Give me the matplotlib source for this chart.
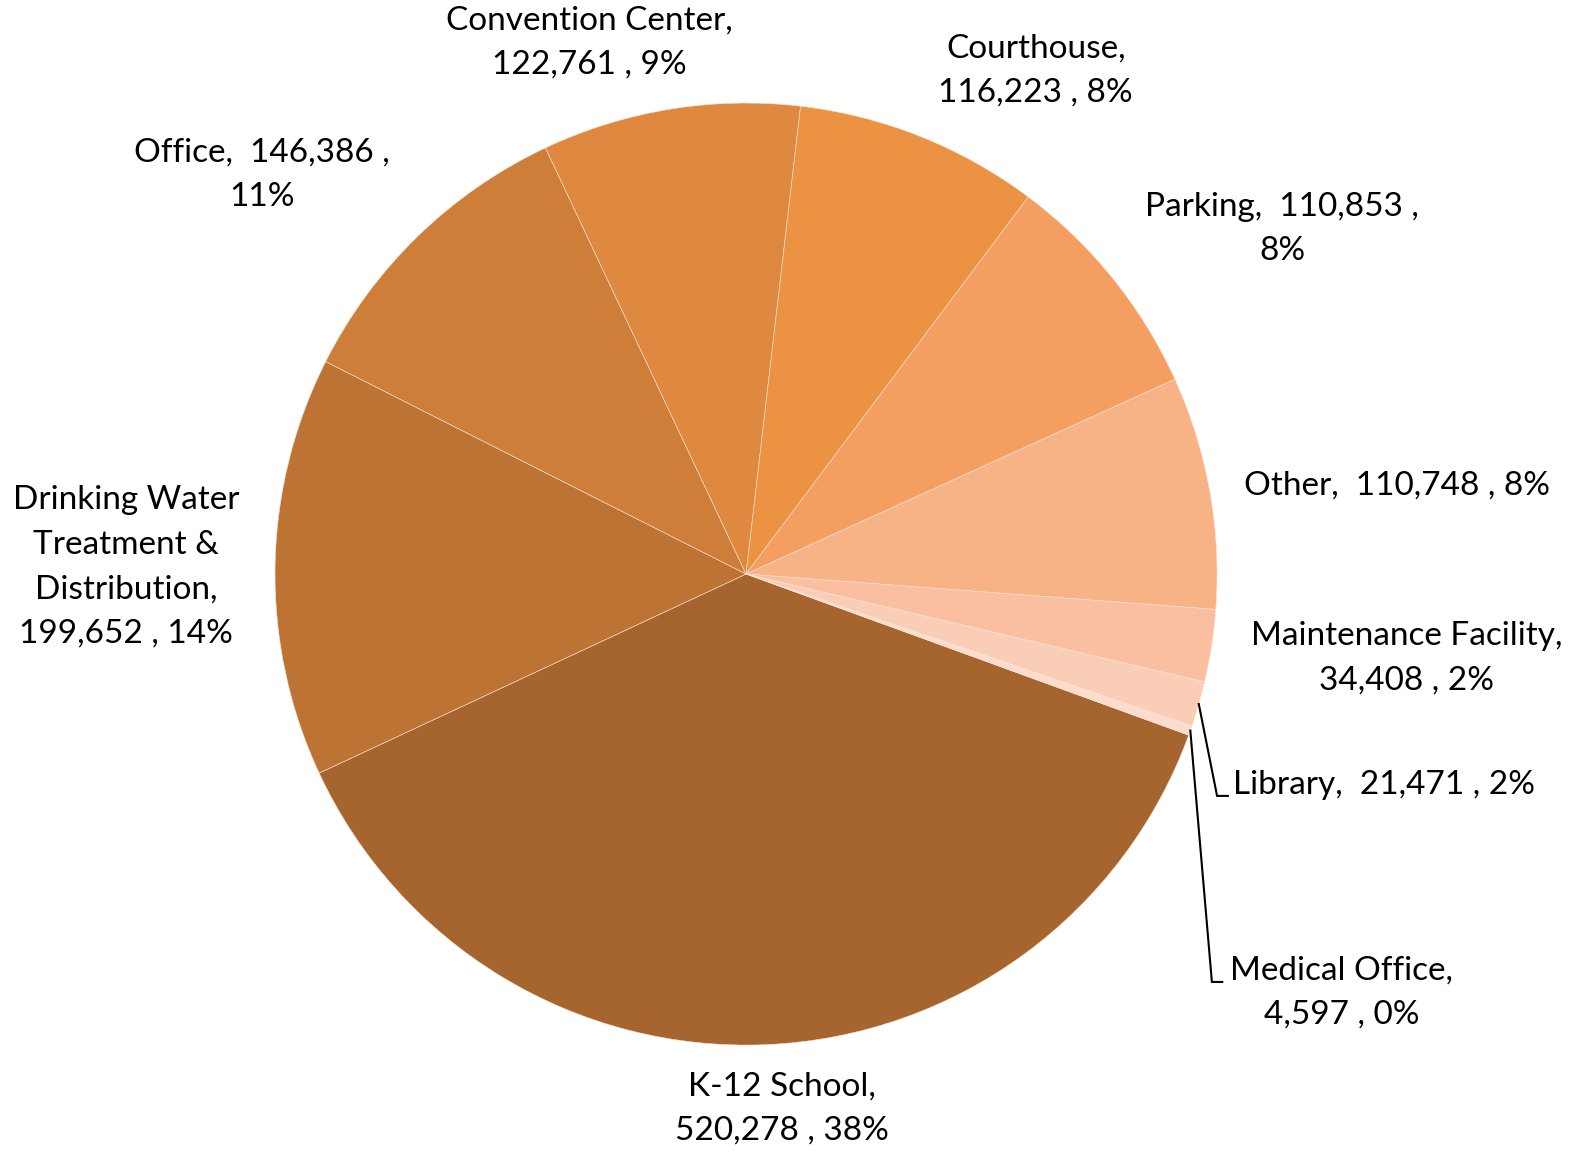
import numpy as np
import matplotlib
matplotlib.use('Agg')
import matplotlib.pyplot as plt

plt.rcParams['font.family'] = ['Lato', 'DejaVu Sans']

categories = ['K-12 School', 'Drinking Water\nTreatment &\nDistribution', 'Office', 'Convention Center',
              'Courthouse', 'Parking', 'Other', 'Maintenance Facility', 'Library', 'Medical Office']
values = [520278, 199652, 146386, 122761, 116223, 110853, 110748, 34408, 21471, 4597]
colors = ['#A6652E', '#BD7334', '#CF7E3A', '#DE8840', '#EB9243', '#F59E62',
          '#F7B286', '#F9BFA0', '#FACDB6', '#FCDCCD']

# label text, layout: (x, y) in pie units
label_text = [
    'K-12 School,\n520,278 , 38%',
    'Drinking Water\nTreatment &\nDistribution,\n199,652 , 14%',
    'Office,  146,386 ,\n11%',
    'Convention Center,\n122,761 , 9%',
    'Courthouse,\n116,223 , 8%',
    'Parking,  110,853 ,\n8%',
    'Other,  110,748 , 8%',
    'Maintenance Facility,\n34,408 , 2%',
    'Library,  21,471 , 2%',
    'Medical Office,\n4,597 , 0%',
]
label_pos = [(0.077, -1.135), (-1.316, 0.015), (-1.028, 0.847), (-0.333, 1.129),
             (0.615, 1.069), (1.138, 0.733), (1.383, 0.187), (1.402, -0.178),
             (1.355, -0.447), (1.265, -0.888)]

fig = plt.figure(figsize=(15.87, 11.52), dpi=100)
cx, cy, rw, rh = 0.4701, 0.5017, 0.2968, 0.4089
ax = fig.add_axes([cx - rw, cy - rh, 2 * rw, 2 * rh])

wedges, _ = ax.pie(values, colors=colors, startangle=-20, counterclock=False,
                   radius=1.0, wedgeprops=dict(edgecolor='#FBE3D3', linewidth=0.4))
ax.set_xlim(-1, 1)
ax.set_ylim(-1, 1)
ax.set_aspect('equal')
ax.axis('off')

for txt, (x, y) in zip(label_text, label_pos):
    ax.text(x, y, txt, ha='center', va='center', fontsize=24, color='black',
            linespacing=1.6, clip_on=False)

# leader lines for the two thin slices
leader_bend = {8: (1.0, -0.471, 1.023), 9: (0.989, -0.866, 1.011)}
for i, (bx, by, ex) in leader_bend.items():
    w = wedges[i]
    ang = np.deg2rad((w.theta1 + w.theta2) / 2)
    sx, sy = np.cos(ang), np.sin(ang)
    ax.plot([sx, bx, ex], [sy, by, by], color='black', lw=1.5, clip_on=False,
            solid_joinstyle='miter')

fig.savefig('out.png', dpi=100)
